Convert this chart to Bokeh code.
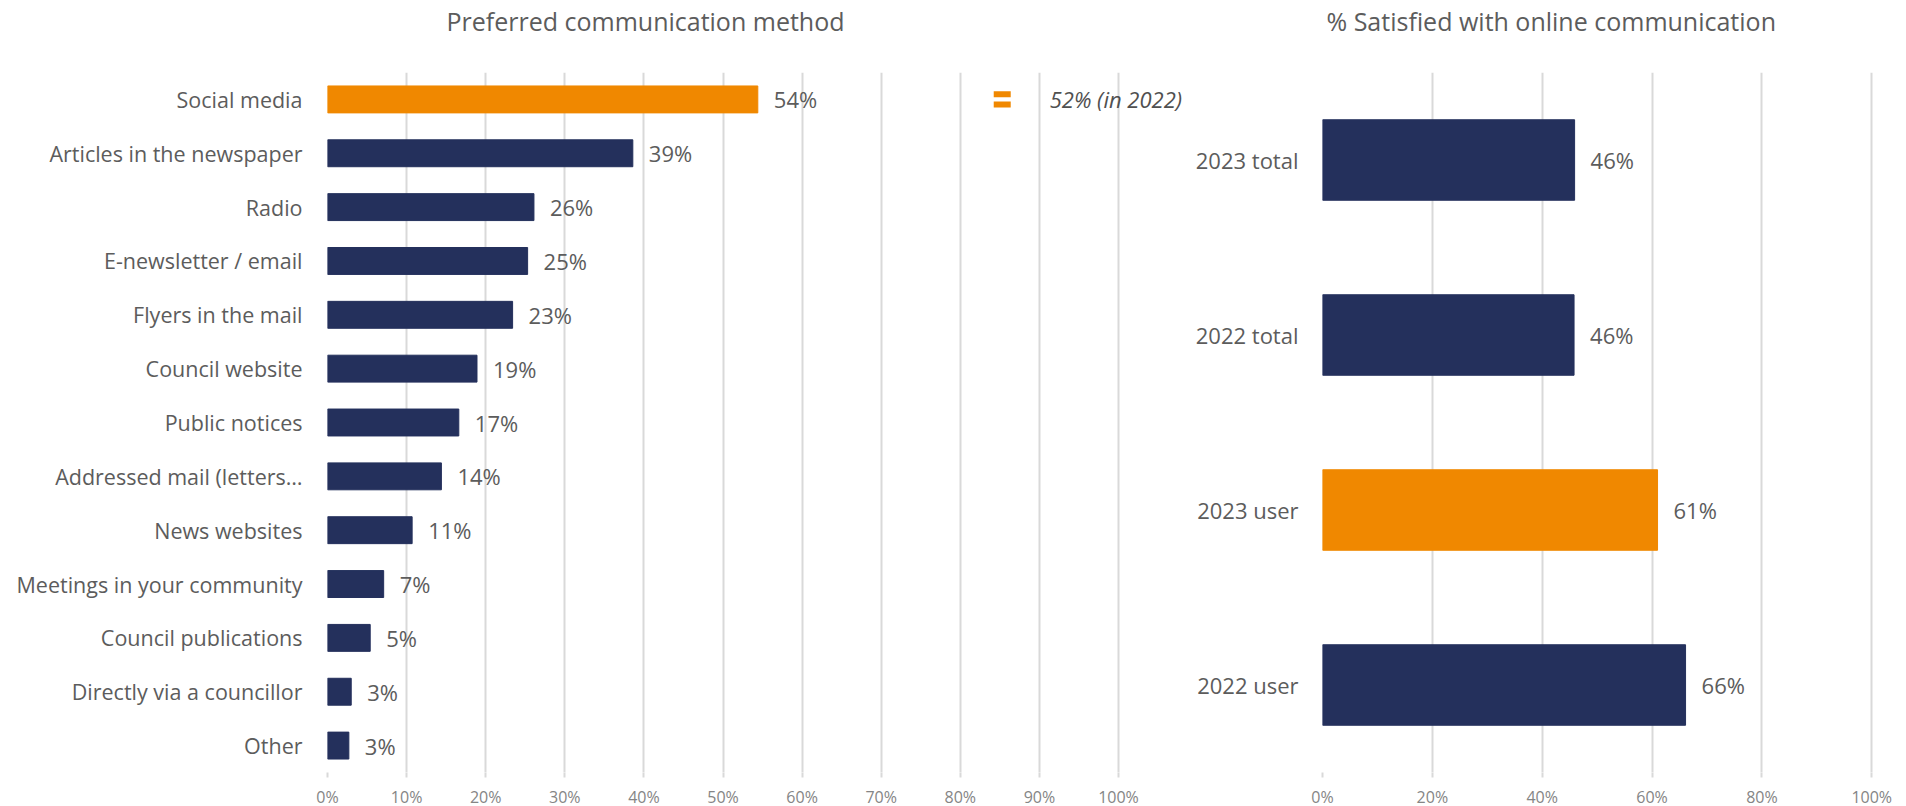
from bokeh.plotting import figure
from bokeh.models import Range1d, FactorRange, FixedTicker, NumeralTickFormatter, ColumnDataSource
from bokeh.layouts import row
from bokeh.transform import dodge
from bokeh.core.properties import value
from bokeh.embed import file_html
from bokeh.resources import INLINE

# ---------------- data ----------------
methods = ["Social media", "Articles in the newspaper", "Radio", "E-newsletter / email",
           "Flyers in the mail", "Council website", "Public notices", "Addressed mail (letters\u2026",
           "News websites", "Meetings in your community", "Council publications",
           "Directly via a councillor", "Other"]
method_share = [0.544, 0.386, 0.261, 0.253, 0.234, 0.189, 0.166, 0.144, 0.107, 0.071, 0.054, 0.030, 0.027]
method_labels = ["54%", "39%", "26%", "25%", "23%", "19%", "17%", "14%", "11%", "7%", "5%", "3%", "3%"]
highlight_method = "Social media"
prev_note = "52% (in 2022)"
prev_note_x = 0.913
prev_icon_x = 0.853

groups = ["2023 total", "2022 total", "2023 user", "2022 user"]
sat_share = [0.459, 0.458, 0.610, 0.661]
sat_labels = ["46%", "46%", "61%", "66%"]
highlight_group = "2023 user"

left_ticks = [0, 0.1, 0.2, 0.3, 0.4, 0.5, 0.6, 0.7, 0.8, 0.9, 1.0]
right_ticks = [0, 0.2, 0.4, 0.6, 0.8, 1.0]

left_title = "Preferred communication method"
right_title = "% Satisfied with online communication"

# ---------------- style ----------------
NAVY = "#24305c"
ORANGE = "#f08800"
TXT = "#5c5c5c"
TICK_TXT = "#858585"
GRID = "#d9d9d9"
FONT = "Open Sans"
FRAME_H = 700
TOP = 70


def style(p, ticks, label_size, label_standoff, title_offset):
    p.outline_line_color = None
    p.background_fill_color = "white"
    p.border_fill_color = "white"
    p.xaxis.ticker = FixedTicker(ticks=ticks)
    p.xaxis.formatter = NumeralTickFormatter(format="0%")
    p.xaxis.axis_line_color = None
    p.xaxis.major_tick_line_color = GRID
    p.xaxis.major_tick_line_width = 2
    p.xaxis.major_tick_out = 5
    p.xaxis.major_tick_in = 0
    p.xaxis.minor_tick_line_color = None
    p.xaxis.major_label_standoff = 8
    p.xaxis.major_label_text_font = FONT
    p.xaxis.major_label_text_font_size = "16px"
    p.xaxis.major_label_text_color = TICK_TXT
    p.yaxis.axis_line_color = None
    p.yaxis.major_tick_line_color = None
    p.yaxis.minor_tick_line_color = None
    p.yaxis.major_label_standoff = label_standoff
    p.yaxis.major_label_text_font = FONT
    p.yaxis.major_label_text_font_size = label_size
    p.yaxis.major_label_text_color = TXT
    p.xgrid.grid_line_color = GRID
    p.xgrid.grid_line_width = 2
    p.ygrid.grid_line_color = None
    p.title.text_font = FONT
    p.title.text_font_size = "25px"
    p.title.text_font_style = "normal"
    p.title.text_color = TXT
    p.title.text_line_height = 1.0
    p.title.align = "left"
    p.title.offset = title_offset
    p.title.standoff = 2


# ---------------- left chart ----------------
PX_PER_UNIT_L = 791
left_frame_w = 863
p1 = figure(y_range=FactorRange(*reversed(methods)),
            x_range=Range1d(0, left_frame_w / PX_PER_UNIT_L),
            frame_width=left_frame_w, frame_height=FRAME_H,
            min_border_left=327, min_border_right=0, min_border_top=TOP, min_border_bottom=0,
            title=left_title + "\n ", output_backend="svg", toolbar_location=None)
style(p1, left_ticks, "21.5px", 19, 119)

src1 = ColumnDataSource(dict(
    cat=methods, val=method_share, label=method_labels,
    color=[ORANGE if m == highlight_method else NAVY for m in methods]))
p1.hbar(y="cat", left=0, right="val", height=0.5, fill_color="color", line_color="color", source=src1)
p1.text(x="val", y="cat", text="label", x_offset=16, text_align="left", text_baseline="middle",
        text_font=value(FONT), text_font_size="22px", text_color=TXT, source=src1)

# "no change vs 2022" marker and note
note_src = ColumnDataSource(dict(cat=[highlight_method], ix=[prev_icon_x], tx=[prev_note_x], t=[prev_note]))
p1.rect(x="ix", y=dodge("cat", 0.095, range=p1.y_range), width=17, height=6,
        width_units="screen", height_units="screen", fill_color=ORANGE, line_color=None, source=note_src)
p1.rect(x="ix", y=dodge("cat", -0.095, range=p1.y_range), width=17, height=6,
        width_units="screen", height_units="screen", fill_color=ORANGE, line_color=None, source=note_src)
p1.text(x="tx", y="cat", text="t", text_align="left", text_baseline="middle",
        text_font=value(FONT), text_font_size="22px", text_font_style="italic",
        text_color="#505050", source=note_src)

# ---------------- right chart ----------------
p2 = figure(y_range=FactorRange(*reversed(groups)),
            x_range=Range1d(0, 1.005),
            frame_width=552, frame_height=FRAME_H,
            min_border_left=132, min_border_right=28, min_border_top=TOP, min_border_bottom=0,
            title=right_title + "\n ", output_backend="svg", toolbar_location=None)
style(p2, right_ticks, "22px", 18, 4)

src2 = ColumnDataSource(dict(
    cat=groups, val=sat_share, label=sat_labels,
    color=[ORANGE if g == highlight_group else NAVY for g in groups]))
p2.hbar(y="cat", left=0, right="val", height=0.46, fill_color="color", line_color="color", source=src2)
p2.text(x="val", y="cat", text="label", x_offset=16, text_align="left", text_baseline="middle",
        text_font=value(FONT), text_font_size="22px", text_color=TXT, source=src2)

layout = row(p1, p2, spacing=0)
open("out.html", "w").write(file_html(layout, INLINE))
